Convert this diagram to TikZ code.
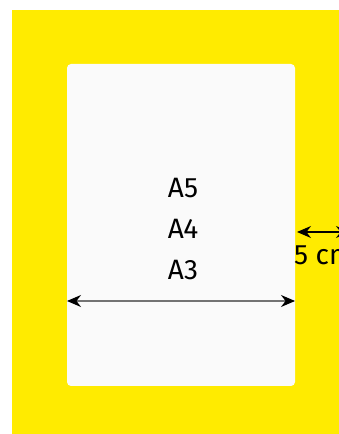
\documentclass[tikz,border=0pt]{standalone}
\usepackage{fontspec}
\setmainfont{Fira Sans}
\usetikzlibrary{arrows.meta}
\definecolor{sheetyellow}{HTML}{FFEB00}
\definecolor{sheetwhite}{HTML}{FAFAFA}
\begin{document}
\begin{tikzpicture}[
        % styles
        outer/.style={fill=sheetyellow},
        inner/.style={fill=sheetwhite,rounded corners=4pt},
        label/.style={font=\fontsize{28}{34}\selectfont,inner sep=0pt},
        dim/.style={line width=1.3pt,{Stealth[length=14pt,width=12pt,color=black]}-{Stealth[length=14pt,width=12pt,color=black]}},
    ]
    % page size
    \useasboundingbox (0pt,0pt) rectangle (339pt,434pt);

    % corner points
    \coordinate (P1) at (12pt,0pt);
    \coordinate (P2) at (339pt,424pt);
    \coordinate (Q1) at (67pt,48pt);
    \coordinate (Q2) at (295pt,370pt);

    % sheets
    \fill[outer] (P1) rectangle (P2);
    \fill[inner] (Q1) rectangle (Q2);

    % paper sizes
    \node[label] (a5) at (183pt,246pt) {A5};
    \node[label] (a4) at (183pt,205pt) {A4};
    \node[label] (a3) at (183pt,164pt) {A3};

    % width arrow
    \coordinate (L) at (67pt,133pt);
    \coordinate (R) at (295pt,133pt);
    \draw[dim,draw=gray!90!black] (L) -- (R);

    % margin arrow and label, cut at the page edge
    \begin{scope}
        \clip (0pt,0pt) rectangle (339pt,434pt);
        \coordinate (M1) at (297pt,202pt);
        \coordinate (M2) at (350pt,202pt);
        \draw[dim] (M1) -- (M2);
        \node[label,anchor=west] (margin) at (294pt,179pt) {5 cm};
    \end{scope}
\end{tikzpicture}
\end{document}
